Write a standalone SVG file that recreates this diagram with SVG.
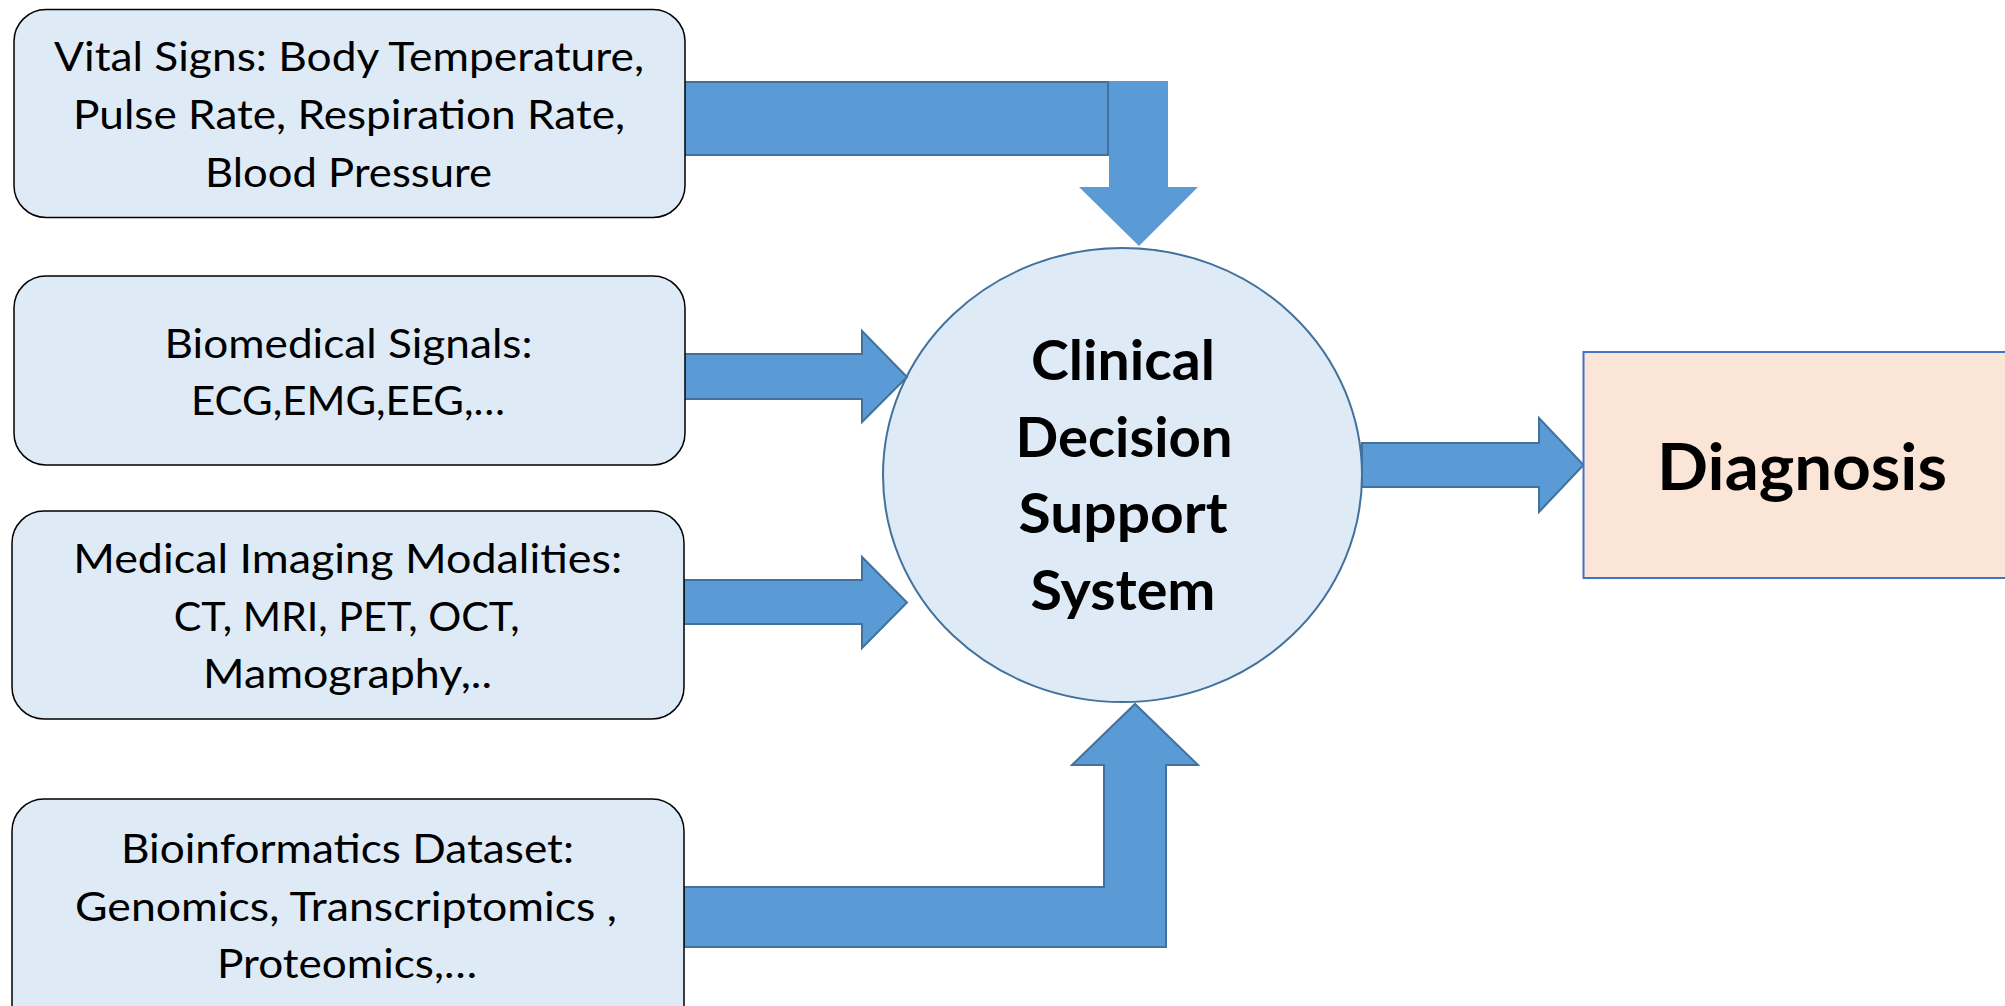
<svg xmlns="http://www.w3.org/2000/svg" width="2005" height="1006" viewBox="0 0 2005 1006">
<style>
.box{fill:#DEEBF7;stroke:#000000;stroke-width:1.5}
.arr{fill:#5B9BD5;stroke:#41719C;stroke-width:2}
.arrn{fill:#5B9BD5;stroke:none}
.t{font-family:Lato,"Open Sans","Liberation Sans",sans-serif;font-size:41px;fill:#000;text-anchor:middle}
.b{font-family:Lato,"Open Sans","Liberation Sans",sans-serif;font-weight:bold;font-size:56px;fill:#000;text-anchor:middle}
</style>
<rect width="2005" height="1006" fill="#FFFFFF"/>
<g id="cdss">
<ellipse cx="1122.5" cy="475" rx="239.5" ry="227" fill="#DEEBF7" stroke="#41719C" stroke-width="2"/>
<text class="b" x="1123" y="380" textLength="184" lengthAdjust="spacingAndGlyphs">Clinical</text>
<text class="b" x="1124" y="457" textLength="217" lengthAdjust="spacingAndGlyphs">Decision</text>
<text class="b" x="1123" y="533" textLength="209" lengthAdjust="spacingAndGlyphs">Support</text>
<text class="b" x="1123" y="610" textLength="185" lengthAdjust="spacingAndGlyphs">System</text>
</g>
<g id="connectors">
<polygon class="arrn" points="1109,81 1168,81 1168,187 1198,187 1139,246 1079,187 1109,187"/>
<rect class="arr" x="684" y="82" width="424" height="73"/>
<polygon class="arr" points="684,354 862,354 862,331 907,377 862,422 862,399 684,399"/>
<polygon class="arr" points="684,580 862,580 862,557 907,602.5 862,648 862,624 684,624"/>
<polygon class="arr" points="684,887 1104,887 1104,765 1072,765 1135,704 1198,765 1166,765 1166,947 684,947"/>
<polygon class="arr" points="1362,443 1539,443 1539,418 1583.5,465 1539,512 1539,487 1362,487"/>
</g>
<g id="vital">
<rect class="box" x="14" y="9.5" width="671" height="208" rx="32" ry="32"/>
<text class="t" x="349" y="71" textLength="590" lengthAdjust="spacingAndGlyphs">Vital Signs: Body Temperature,</text>
<text class="t" x="349" y="129.3" textLength="552" lengthAdjust="spacingAndGlyphs">Pulse Rate, Respiration Rate,</text>
<text class="t" x="348.5" y="186.7" textLength="287" lengthAdjust="spacingAndGlyphs">Blood Pressure</text>
</g>
<g id="biomedical">
<rect class="box" x="14" y="276" width="671" height="189" rx="32" ry="32"/>
<text class="t" x="348.5" y="358.3" textLength="368" lengthAdjust="spacingAndGlyphs">Biomedical Signals:</text>
<text class="t" x="348" y="415" textLength="314" lengthAdjust="spacingAndGlyphs">ECG,EMG,EEG,…</text>
</g>
<g id="imaging">
<rect class="box" x="12" y="511" width="672" height="208" rx="32" ry="32"/>
<text class="t" x="347.7" y="573.3" textLength="549" lengthAdjust="spacingAndGlyphs">Medical Imaging Modalities:</text>
<text class="t" x="346.7" y="630.7" textLength="346" lengthAdjust="spacingAndGlyphs">CT, MRI, PET, OCT,</text>
<text class="t" x="347.5" y="688.3" textLength="289" lengthAdjust="spacingAndGlyphs">Mamography,..</text>
</g>
<g id="bioinformatics">
<rect class="box" x="12" y="799" width="672" height="260" rx="32" ry="32"/>
<text class="t" x="347.5" y="862.7" textLength="453" lengthAdjust="spacingAndGlyphs">Bioinformatics Dataset:</text>
<text class="t" x="346" y="920.7" textLength="542" lengthAdjust="spacingAndGlyphs">Genomics, Transcriptomics ,</text>
<text class="t" x="347" y="978.3" textLength="260" lengthAdjust="spacingAndGlyphs">Proteomics,…</text>
</g>
<g id="diagnosis">
<rect x="1583.5" y="352" width="440" height="226" fill="#FBE5D6" stroke="#4472C4" stroke-width="2"/>
<text x="1802" y="490" font-family="Lato,'Open Sans','Liberation Sans',sans-serif" font-weight="bold" font-size="65" text-anchor="middle" textLength="290" lengthAdjust="spacingAndGlyphs">Diagnosis</text>
</g>
</svg>
